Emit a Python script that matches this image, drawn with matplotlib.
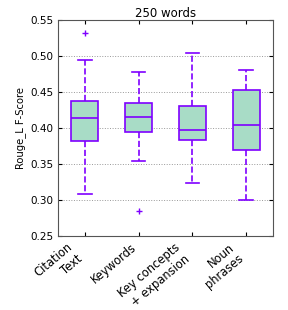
import matplotlib
matplotlib.use('Agg')
import matplotlib.pyplot as plt

# Box stats
labels = ['Citation\nText', 'Keywords', 'Key concepts\n+ expansion', 'Noun\nphrases']
whislo = [0.308, 0.354, 0.323, 0.300]
q1 = [0.382, 0.394, 0.383, 0.369]
med = [0.414, 0.415, 0.397, 0.404]
q3 = [0.437, 0.435, 0.431, 0.453]
whishi = [0.495, 0.478, 0.504, 0.480]
fliers = [[0.532], [0.285], [], []]

stats = []
for i in range(len(labels)):
    stats.append(dict(whislo=whislo[i], q1=q1[i], med=med[i], q3=q3[i],
                      whishi=whishi[i], fliers=fliers[i], label=labels[i]))

purple = '#7f00ff'
fig = plt.figure(figsize=(2.88, 3.10), dpi=100)
ax = fig.add_axes([0.201, 0.239, 0.747, 0.696])

ax.bxp(stats, patch_artist=True, widths=0.5,
       boxprops=dict(facecolor='#a8dcc6', edgecolor=purple, linewidth=1.2),
       medianprops=dict(color=purple, linewidth=1.2),
       whiskerprops=dict(color=purple, linestyle='--', linewidth=1.2),
       capprops=dict(color=purple, linewidth=1.2),
       flierprops=dict(marker='+', markeredgecolor=purple, markersize=4))

ax.set_ylim(0.25, 0.55)
ax.set_yticks([0.25, 0.30, 0.35, 0.40, 0.45, 0.50, 0.55])
ax.yaxis.grid(True, linestyle=':', color='#999999', linewidth=0.7)
ax.set_axisbelow(True)
ax.set_title('250 words', fontsize=8.5, pad=2)
ax.set_ylabel('Rouge_L F-Score', fontsize=7.2, labelpad=3)
ax.tick_params(direction='in', top=True, right=True, length=3)
ax.tick_params(axis='y', labelsize=7.5)
ax.set_xticklabels(labels, rotation=40, ha='right', multialignment='right', fontsize=8.3)
for s in ax.spines.values():
    s.set_color('#555555')

fig.savefig('out.png', dpi=100)
